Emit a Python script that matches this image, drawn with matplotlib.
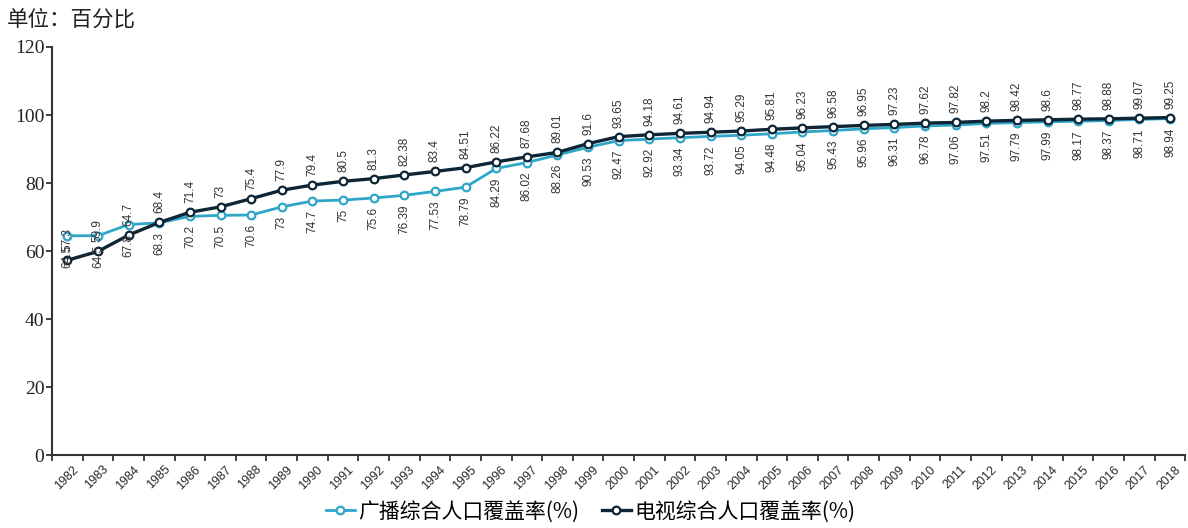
import matplotlib
matplotlib.use("Agg")
import matplotlib.pyplot as plt
import numpy as np

years = [str(y) for y in range(1982, 2019)]

radio_coverage = [64.5, 64.5, 67.8, 68.3, 70.2, 70.5, 70.6, 73, 74.7, 75, 75.6,
                  76.39, 77.53, 78.79, 84.29, 86.02, 88.26, 90.53, 92.47, 92.92,
                  93.34, 93.72, 94.05, 94.48, 95.04, 95.43, 95.96, 96.31, 96.78,
                  97.06, 97.51, 97.79, 97.99, 98.17, 98.37, 98.71, 98.94]

tv_coverage = [57.3, 59.9, 64.7, 68.4, 71.4, 73, 75.4, 77.9, 79.4, 80.5, 81.3,
               82.38, 83.4, 84.51, 86.22, 87.68, 89.01, 91.6, 93.65, 94.18,
               94.61, 94.94, 95.29, 95.81, 96.23, 96.58, 96.95, 97.23, 97.62,
               97.82, 98.2, 98.42, 98.6, 98.77, 98.88, 99.07, 99.25]

radio_name = "广播综合人口覆盖率(%)"
tv_name = "电视综合人口覆盖率(%)"
unit_text = "单位：百分比"
y_ticks = [0, 20, 40, 60, 80, 100, 120]

RADIO_COLOR = "#2fa6c8"
TV_COLOR = "#0e2536"
AXIS_COLOR = "#333333"
LABEL_COLOR = "#333333"
CJK = ["Noto Sans CJK SC", "DejaVu Sans"]

fig = plt.figure(figsize=(11.88, 5.28), dpi=100)
ax = fig.add_axes([0.0438, 0.138, 0.954, 0.773])

x = np.arange(len(years))

ax.plot(x, radio_coverage, color=RADIO_COLOR, lw=2.0, marker="o", ms=5.5,
        mfc="white", mec=RADIO_COLOR, mew=1.6, label=radio_name, zorder=3)
ax.plot(x, tv_coverage, color=TV_COLOR, lw=2.4, marker="o", ms=5.5,
        mfc="white", mec=TV_COLOR, mew=1.6, label=tv_name, zorder=4)

# value labels: television above its points, radio below
for xi, v in zip(x, tv_coverage):
    ax.annotate(f"{v:g}", (xi, v), xytext=(0, 6.5), textcoords="offset points",
                rotation=90, ha="center", va="bottom", fontsize=8.5,
                family="Liberation Sans", color=LABEL_COLOR, zorder=5)
for xi, v in zip(x, radio_coverage):
    ax.annotate(f"{v:g}", (xi, v), xytext=(0, -6.5), textcoords="offset points",
                rotation=90, ha="center", va="top", fontsize=8.5,
                family="Liberation Sans", color=LABEL_COLOR, zorder=5)

ax.set_xlim(-0.5, len(years) - 0.5)
ax.set_ylim(0, 120)

# tick marks sit between categories, labels at category centres
ax.set_xticks(np.arange(-0.5, len(years), 1.0))
ax.set_xticklabels([])
ax.set_xticks(x + 0.15, minor=True)
ax.set_xticklabels(years, minor=True, rotation=45, ha="right",
                   rotation_mode="anchor", fontsize=9, family="Liberation Sans",
                   color="#2a2a2a")
ax.tick_params(axis="x", which="major", direction="out", length=4, width=1.3,
               color=AXIS_COLOR)
ax.tick_params(axis="x", which="minor", length=0, pad=6)

ax.set_yticks(y_ticks)
ax.set_yticklabels([str(t) for t in y_ticks], fontsize=14,
                   family="Liberation Serif", color="#222222")
ax.tick_params(axis="y", direction="out", length=4, width=1.3,
               color=AXIS_COLOR, pad=1.5)

for side in ("top", "right"):
    ax.spines[side].set_visible(False)
for side in ("left", "bottom"):
    ax.spines[side].set_color(AXIS_COLOR)
    ax.spines[side].set_linewidth(1.5)

fig.text(0.006, 0.962, unit_text, family=CJK, fontsize=15.5, color="#222222",
         ha="left", va="center")

fig.legend(loc="lower center", bbox_to_anchor=(0.497, -0.025), ncol=2,
           frameon=False, prop={"family": CJK, "size": 15},
           handlelength=1.4, handletextpad=0.15, columnspacing=1.1)

fig.savefig("out.png", dpi=100)
